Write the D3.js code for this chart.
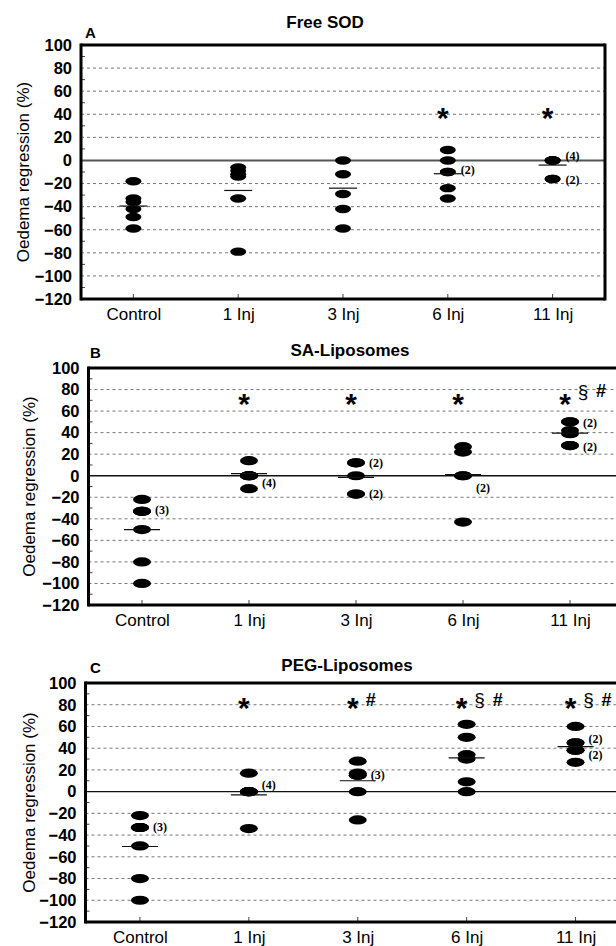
<!DOCTYPE html>
<html>
<head>
<meta charset="utf-8">
<script src="https://cdn.jsdelivr.net/npm/d3@7"></script>
<style>
  body { margin: 0; background: #fff; }
  svg { display: block; font-family: "Liberation Sans", Arial, sans-serif; }
</style>
</head>
<body>
<div id="chart"></div>
<script>
// categories and axis ticks
var categories = ["Control", "1 Inj", "3 Inj", "6 Inj", "11 Inj"];
var yTicks = [100, 80, 60, 40, 20, 0, -20, -40, -60, -80, -100, -120];
var yMinorTicks = [90, 70, 50, 30, 10, -10, -30, -50, -70, -90, -110];

// A - Free SOD: individual values per group (duplicates overlap)
var freeSodValues = [
  [-18, -33, -36, -42, -49, -59],
  [-6, -9, -12, -14, -33, -79],
  [0, -12, -29, -42, -59],
  [9, 0, -10, -10, -24, -33],
  [0, 0, 0, 0, -16, -16]
];
var freeSodMeans = [-39.5, -26, -24, -11.5, -4];
var freeSodCounts = [
  { cat: "6 Inj", value: -8, n: 2 },
  { cat: "11 Inj", value: 4, n: 4 },
  { cat: "11 Inj", value: -17, n: 2 }
];
var freeSodMarks = [
  { cat: "6 Inj", sym: "*", value: 43 },
  { cat: "11 Inj", sym: "*", value: 43 }
];

// B - SA-Liposomes
var saValues = [
  [-22, -33, -33, -33, -50, -80, -100],
  [14, 0, 0, 0, 0, -12],
  [12, 12, 0, -17, -17],
  [27, 22, 0, 0, -43],
  [50, 50, 42, 39, 28, 28]
];
var saMeans = [-50, 2, -1.5, 1, 39.5];
var saCounts = [
  { cat: "Control", value: -32, n: 3 },
  { cat: "1 Inj", value: -7, n: 4 },
  { cat: "3 Inj", value: 12, n: 2 },
  { cat: "3 Inj", value: -17, n: 2 },
  { cat: "6 Inj", value: -11, n: 2 },
  { cat: "11 Inj", value: 49, n: 2 },
  { cat: "11 Inj", value: 27, n: 2 }
];
var saMarks = [
  { cat: "1 Inj", sym: "*", value: 73 },
  { cat: "3 Inj", sym: "*", value: 73 },
  { cat: "6 Inj", sym: "*", value: 73 },
  { cat: "11 Inj", sym: "*", value: 73 },
  { cat: "11 Inj", sym: "§", value: 77 },
  { cat: "11 Inj", sym: "#", value: 79 }
];

// C - PEG-Liposomes
var pegValues = [
  [-22, -33, -33, -33, -50, -80, -100],
  [17, 0, 0, 0, 0, -34],
  [28, 17, 15, 15, 0, -26],
  [62, 50, 34, 30, 9, 0],
  [60, 45, 45, 38, 38, 27]
];
var pegMeans = [-50.5, -3, 10, 31, 41.5];
var pegCounts = [
  { cat: "Control", value: -33, n: 3 },
  { cat: "1 Inj", value: 6, n: 4 },
  { cat: "3 Inj", value: 15, n: 3 },
  { cat: "11 Inj", value: 48, n: 2 },
  { cat: "11 Inj", value: 34, n: 2 }
];
var pegMarks = [
  { cat: "1 Inj", sym: "*", value: 83 },
  { cat: "3 Inj", sym: "*", value: 83 },
  { cat: "3 Inj", sym: "#", value: 85 },
  { cat: "6 Inj", sym: "*", value: 83 },
  { cat: "6 Inj", sym: "§", value: 83 },
  { cat: "6 Inj", sym: "#", value: 85 },
  { cat: "11 Inj", sym: "*", value: 83 },
  { cat: "11 Inj", sym: "§", value: 83 },
  { cat: "11 Inj", sym: "#", value: 85 }
];

// panel layout
var panels = [
  { letter: "A", title: "Free SOD", values: freeSodValues, means: freeSodMeans, counts: freeSodCounts, marks: freeSodMarks,
    left: 81, right: 605, top: 45, bottom: 299, titleX: 325, titleY: 28, letterX: 85, letterY: 38, labelX: 29,
    rx: 8, ry: 4.2, meanW: 28, zeroColor: "#555", zeroW: 2, closed: true },
  { letter: "B", title: "SA-Liposomes", values: saValues, means: saMeans, counts: saCounts, marks: saMarks,
    left: 88.5, right: 623.5, top: 368, bottom: 605, titleX: 350, titleY: 356, letterX: 90, letterY: 358, labelX: 35,
    rx: 9, ry: 4.6, meanW: 36, zeroColor: "#111", zeroW: 1.4, closed: false },
  { letter: "C", title: "PEG-Liposomes", values: pegValues, means: pegMeans, counts: pegCounts, marks: pegMarks,
    left: 85.5, right: 630, top: 683, bottom: 922, titleX: 347, titleY: 671, letterX: 90, letterY: 673, labelX: 35,
    rx: 9, ry: 4.6, meanW: 36, zeroColor: "#111", zeroW: 1.4, closed: false }
];

var svgWidth = 616;
var svgHeight = 946;

var svg = d3.select("#chart").append("svg")
  .attr("width", svgWidth)
  .attr("height", svgHeight);

// glyph size and baseline shift so the visible glyph centres on its value
var symStyle = {
  "*": { size: 30, weight: "bold", shift: 17 },
  "§": { size: 19, weight: "normal", shift: 5 },
  "#": { size: 18, weight: "bold", shift: 6.5 }
};

panels.forEach(function(p) {
  var x = d3.scalePoint().domain(categories).range([p.left, p.right]).padding(0.5);
  var y = d3.scaleLinear().domain([-120, 100]).range([p.bottom, p.top]);
  var g = svg.append("g");

  // grid lines
  g.selectAll(".grid")
    .data(yTicks.filter(function(d) { return d !== 0 && d !== 100 && d !== -120; }))
    .enter().append("line")
    .attr("x1", p.left).attr("x2", p.right)
    .attr("y1", function(d) { return y(d); }).attr("y2", function(d) { return y(d); })
    .attr("stroke", "#666").attr("stroke-width", 0.9).attr("stroke-dasharray", "3,3");

  // zero line
  g.append("line")
    .attr("x1", p.left).attr("x2", p.right)
    .attr("y1", y(0)).attr("y2", y(0))
    .attr("stroke", p.zeroColor).attr("stroke-width", p.zeroW);

  // y axis labels
  var leftAxis = d3.axisLeft(y).tickValues(yTicks).tickSize(0).tickPadding(9);
  var ya = g.append("g").attr("transform", "translate(" + p.left + ",0)").call(leftAxis);
  ya.select(".domain").remove();
  ya.selectAll("text")
    .style("font-family", "'Liberation Sans', Arial, sans-serif")
    .style("font-size", "16.5px").style("font-weight", "bold").attr("fill", "#000");

  // minor ticks, inward
  g.selectAll(".minor")
    .data(yMinorTicks)
    .enter().append("line")
    .attr("x1", p.left).attr("x2", p.left + 4)
    .attr("y1", function(d) { return y(d); }).attr("y2", function(d) { return y(d); })
    .attr("stroke", "#444").attr("stroke-width", 1);

  // x axis labels
  var bottomAxis = d3.axisBottom(x).tickSize(0).tickPadding(9);
  var xa = g.append("g").attr("transform", "translate(0," + p.bottom + ")").call(bottomAxis);
  xa.select(".domain").remove();
  xa.selectAll("text")
    .style("font-family", "'Liberation Sans', Arial, sans-serif")
    .style("font-size", "17px").attr("fill", "#000");

  g.selectAll(".xtick")
    .data(categories)
    .enter().append("line")
    .attr("x1", function(d) { return x(d); }).attr("x2", function(d) { return x(d); })
    .attr("y1", p.bottom).attr("y2", p.bottom - 5)
    .attr("stroke", "#444").attr("stroke-width", 1);

  // frame
  var frame = g.append("g").attr("stroke", "#000").attr("stroke-width", 3).attr("fill", "none");
  frame.append("line").attr("x1", p.left).attr("x2", p.right).attr("y1", p.top).attr("y2", p.top);
  frame.append("line").attr("x1", p.left).attr("x2", p.right).attr("y1", p.bottom).attr("y2", p.bottom);
  frame.append("line").attr("x1", p.left).attr("x2", p.left).attr("y1", p.top - 1.5).attr("y2", p.bottom + 1.5);
  frame.append("line").attr("x1", p.right).attr("x2", p.right).attr("y1", p.top - 1.5).attr("y2", p.bottom + 1.5);

  // points
  p.values.forEach(function(vals, i) {
    g.selectAll(".pt" + i)
      .data(vals)
      .enter().append("ellipse")
      .attr("cx", x(categories[i]))
      .attr("cy", function(d) { return y(d); })
      .attr("rx", p.rx).attr("ry", p.ry)
      .attr("fill", "#000");
  });

  // mean lines
  g.selectAll(".mean")
    .data(p.means)
    .enter().append("line")
    .attr("x1", function(d, i) { return x(categories[i]) - p.meanW / 2; })
    .attr("x2", function(d, i) { return x(categories[i]) + p.meanW / 2; })
    .attr("y1", function(d) { return y(d); }).attr("y2", function(d) { return y(d); })
    .attr("stroke", "#111").attr("stroke-width", 1.2);

  // (n) labels
  g.selectAll(".count")
    .data(p.counts)
    .enter().append("text")
    .attr("x", function(d) { return x(d.cat) + 13; })
    .attr("y", function(d) { return y(d.value) + 4; })
    .style("font-family", "'Liberation Serif', 'Times New Roman', serif")
    .style("font-size", "12px").style("font-weight", "bold")
    .text(function(d) { return "(" + d.n + ")"; });

  // significance marks
  var seen = {};
  p.marks.forEach(function(m) {
    var k = seen[m.cat] || 0;
    seen[m.cat] = k + 1;
    var s = symStyle[m.sym];
    g.append("text")
      .attr("x", x(m.cat) - 5 + k * 18)
      .attr("y", y(m.value) + s.shift)
      .attr("text-anchor", "middle")
      .style("font-size", s.size + "px").style("font-weight", s.weight)
      .text(m.sym);
  });

  // titles
  g.append("text")
    .attr("x", p.titleX).attr("y", p.titleY)
    .attr("text-anchor", "middle")
    .style("font-size", "17px").style("font-weight", "bold")
    .text(p.title);
  g.append("text")
    .attr("x", p.letterX).attr("y", p.letterY)
    .style("font-size", "15px").style("font-weight", "bold")
    .text(p.letter);

  // y axis title
  g.append("text")
    .attr("transform", "translate(" + p.labelX + "," + ((p.top + p.bottom) / 2) + ") rotate(-90)")
    .attr("text-anchor", "middle")
    .style("font-size", "17px")
    .text("Oedema regression (%)");
});
</script>
</body>
</html>
